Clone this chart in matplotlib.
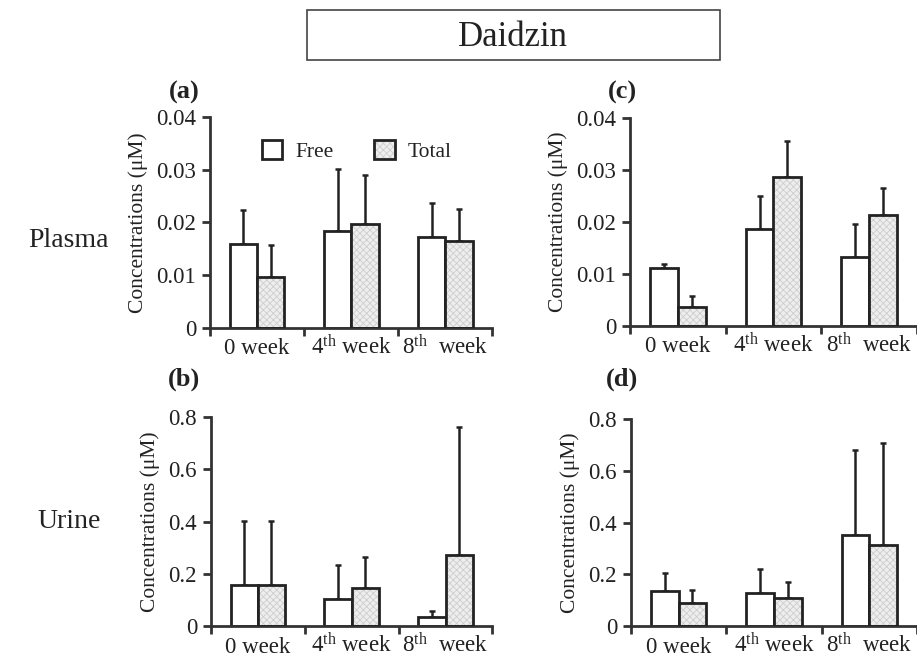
"""Daidzin plasma / urine concentrations, free vs total, four panels."""

import numpy as np
import matplotlib
matplotlib.use('Agg')
import matplotlib.pyplot as plt
from matplotlib.patches import Rectangle, Patch

plt.rcParams['font.family'] = ['Liberation Serif', 'DejaVu Serif']
plt.rcParams['mathtext.fontset'] = 'custom'
plt.rcParams['mathtext.rm'] = 'Liberation Serif'
plt.rcParams['mathtext.it'] = 'Liberation Serif:italic'
plt.rcParams['hatch.linewidth'] = 0.6

# %% data (means and upper error-bar tops)
weeks = ['0 week', r'4$^{\mathrm{th}}$ week', r'8$^{\mathrm{th}}$  week']

a_free = [0.0159, 0.0184, 0.0172]
a_free_top = [0.0224, 0.0301, 0.0237]
a_total = [0.0097, 0.0197, 0.0165]
a_total_top = [0.0157, 0.0290, 0.0226]

c_free = [0.0112, 0.0187, 0.0132]
c_free_top = [0.0120, 0.0250, 0.0196]
c_total = [0.0037, 0.0287, 0.0213]
c_total_top = [0.0058, 0.0356, 0.0265]

b_free = [0.157, 0.103, 0.034]
b_free_top = [0.402, 0.233, 0.058]
b_total = [0.157, 0.145, 0.272]
b_total_top = [0.402, 0.264, 0.762]

d_free = [0.135, 0.128, 0.352]
d_free_top = [0.205, 0.220, 0.680]
d_total = [0.089, 0.108, 0.313]
d_total_top = [0.139, 0.170, 0.707]

plasma_ticks = [0, 0.01, 0.02, 0.03, 0.04]
plasma_labels = ['0', '0.01', '0.02', '0.03', '0.04']
urine_ticks = [0, 0.2, 0.4, 0.6, 0.8]
urine_labels = ['0', '0.2', '0.4', '0.6', '0.8']

INK = '#222222'
AXC = '#333333'
HATCH_FACE = '#eeeeee'
HATCH_LINE = '#cdcdcd'
FONT_TICK = 16.5
FONT_LABEL = 15.5


def panel(ax, free, free_top, total, total_top, ticks, labels):
    x = np.arange(len(free)) + 0.5
    w = 0.29
    free = np.array(free)
    total = np.array(total)
    ferr = np.array(free_top) - free
    terr = np.array(total_top) - total
    ax.errorbar(x - w / 2, free, yerr=[np.zeros_like(ferr), ferr], fmt='none',
                ecolor=INK, elinewidth=1.8, capsize=2.5, capthick=1.8, zorder=1)
    ax.errorbar(x + w / 2, total, yerr=[np.zeros_like(terr), terr], fmt='none',
                ecolor=INK, elinewidth=1.8, capsize=2.5, capthick=1.8, zorder=1)
    ax.bar(x - w / 2, free, w, color='white', edgecolor=INK, linewidth=2, zorder=2)
    ax.bar(x + w / 2, total, w, color=HATCH_FACE, edgecolor=HATCH_LINE,
           hatch='xxxxx', linewidth=0, zorder=2)
    ax.bar(x + w / 2, total, w, color='none', edgecolor=INK, linewidth=2, zorder=3)

    ax.set_xlim(0, len(free))
    ax.set_ylim(ticks[0], ticks[-1])
    ax.set_yticks(ticks)
    ax.set_yticklabels(labels)
    ax.set_xticks(np.arange(len(free) + 1))
    ax.set_xticklabels([])
    ax.set_xticks(x, minor=True)
    ax.set_xticklabels(weeks, minor=True)
    for lab in ax.get_xticklabels(minor=True):
        lab.set_verticalalignment('baseline')
    ax.tick_params(axis='x', which='major', length=6, width=2, color=AXC, direction='out')
    ax.tick_params(axis='x', which='minor', length=0, pad=19, labelsize=FONT_TICK, labelcolor=INK)
    ax.tick_params(axis='y', length=6, width=2, color=AXC, labelsize=FONT_TICK,
                   labelcolor=INK, pad=4)
    for s in ('top', 'right'):
        ax.spines[s].set_visible(False)
    for s in ('left', 'bottom'):
        ax.spines[s].set_linewidth(2)
        ax.spines[s].set_color(AXC)
    ax.set_ylabel('Concentrations (μM)', fontsize=FONT_LABEL, color=INK, labelpad=6)
    ax.patch.set_alpha(0)


def run():
    fig = plt.figure(figsize=(9.17, 6.64), dpi=100)

    ax_a = fig.add_axes([0.229, 0.506, 0.308, 0.318])
    ax_c = fig.add_axes([0.687, 0.509, 0.313, 0.313])
    ax_b = fig.add_axes([0.230, 0.057, 0.307, 0.315])
    ax_d = fig.add_axes([0.688, 0.057, 0.312, 0.312])

    panel(ax_a, a_free, a_free_top, a_total, a_total_top, plasma_ticks, plasma_labels)
    panel(ax_c, c_free, c_free_top, c_total, c_total_top, plasma_ticks, plasma_labels)
    panel(ax_b, b_free, b_free_top, b_total, b_total_top, urine_ticks, urine_labels)
    panel(ax_d, d_free, d_free_top, d_total, d_total_top, urine_ticks, urine_labels)

    # legend in panel (a)
    h_free = Patch(facecolor='white', edgecolor=INK, linewidth=2)
    h_fill = Patch(facecolor=HATCH_FACE, edgecolor=HATCH_LINE, linewidth=0, hatch='xxxxx')
    h_edge = Patch(facecolor='none', edgecolor=INK, linewidth=2)
    ax_a.legend([h_free, (h_fill, h_edge)], ['Free', 'Total'], ncol=2, frameon=False,
                loc='upper center', bbox_to_anchor=(0.52, 0.98), fontsize=FONT_LABEL,
                handlelength=0.95, handleheight=0.95, columnspacing=1.9, handletextpad=0.6,
                labelcolor=INK)

    # title box
    fig.patches.append(Rectangle((307 / 917, 1 - 60 / 664), 413 / 917, 50 / 664,
                                 transform=fig.transFigure, fill=False,
                                 edgecolor='#444444', linewidth=1.2))
    fig.text(513 / 917, 1 - 37 / 664, 'Daidzin', ha='center', va='center',
             fontsize=25, color=INK)

    # row labels
    fig.text(68 / 917, 1 - 240 / 664, 'Plasma', ha='center', va='center', fontsize=20, color=INK)
    fig.text(69 / 917, 1 - 522 / 664, 'Urine', ha='center', va='center', fontsize=20, color=INK)

    # panel letters
    for lx, ly, lab in [(184, 92, '(a)'), (622, 92, '(c)'), (184, 379, '(b)'), (622, 379, '(d)')]:
        fig.text(lx / 917, 1 - ly / 664, lab, ha='center', va='center',
                 fontsize=19, fontweight='bold', color=INK)

    fig.savefig('out.png', dpi=100)
    plt.close('all')


if __name__ == '__main__':
    run()
